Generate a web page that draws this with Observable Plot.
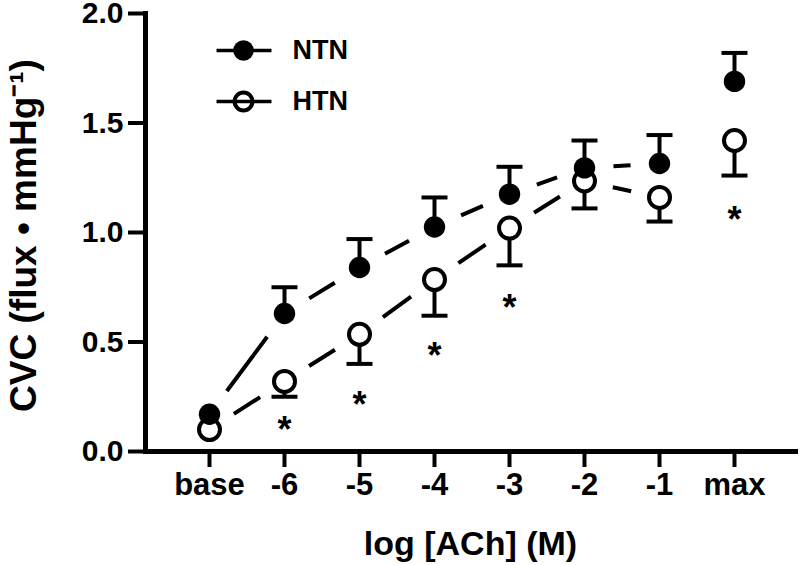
<!DOCTYPE html>
<html>
<head>
<meta charset="utf-8">
<script src="https://cdn.jsdelivr.net/npm/d3@7"></script>
<script src="https://cdn.jsdelivr.net/npm/@observablehq/plot@0.6"></script>
<style>
  html, body { margin: 0; padding: 0; background: #fff; }
  #chart { width: 800px; height: 565px; }
</style>
</head>
<body>
<div id="chart"></div>
<script>
// ---- data ----
const categories = ["base", "-6", "-5", "-4", "-3", "-2", "-1", "max"];
const ntnMean  = [0.17, 0.63, 0.84, 1.025, 1.175, 1.295, 1.315, 1.69];
const ntnUpper = [null, 0.75, 0.97, 1.16, 1.30, 1.42, 1.445, 1.82];
const htnMean  = [0.10, 0.32, 0.535, 0.785, 1.02, 1.235, 1.16, 1.42];
const htnLower = [null, 0.25, 0.40, 0.62, 0.85, 1.11, 1.05, 1.26];
const connectedCount = 7; // base .. -1 are joined by lines
const sigCategories = ["-6", "-5", "-4", "-3", "max"];
const sigY = [0.13, 0.24, 0.465, 0.685, 1.085];
const seriesNames = ["NTN", "HTN"];
const yTicks = [0, 0.5, 1.0, 1.5, 2.0];
const xLabel = "log [ACh] (M)";
const yLabel = "CVC (flux \u2022 mmHg\u207B\u00B9)";

// ---- tables built from arrays ----
const ntn = categories.map((c, i) => ({cat: c, mean: ntnMean[i], err: ntnUpper[i]}));
const htn = categories.map((c, i) => ({cat: c, mean: htnMean[i], err: htnLower[i]}));
function segments(vals) {
  const out = [];
  for (let i = 0; i < connectedCount - 1; i++) {
    out.push({x1: categories[i], x2: categories[i + 1], y1: vals[i], y2: vals[i + 1]});
  }
  return out;
}
const sig = sigCategories.map((c, i) => ({cat: c, y: sigY[i]}));

const font = "'Liberation Sans', Arial, Helvetica, sans-serif";
const capSymbol = {draw(ctx) { ctx.moveTo(-13, 0); ctx.lineTo(13, 0); }};
const legendLine = {draw(ctx) { ctx.moveTo(-27, 0); ctx.lineTo(28, 0); }};

const legendMarks = [];
seriesNames.forEach((name, i) => {
  const dy = 37 + i * 51;
  legendMarks.push(
    Plot.dot([name], {frameAnchor: "top-left", dx: 98, dy, symbol: legendLine, fill: "none", stroke: "black", strokeWidth: 3.5}),
    i === 0
      ? Plot.dot([name], {frameAnchor: "top-left", dx: 98, dy, r: 10.3, fill: "black", stroke: "none"})
      : Plot.dot([name], {frameAnchor: "top-left", dx: 98, dy, r: 8.9, fill: "none", stroke: "black", strokeWidth: 4}),
    Plot.text([name], {frameAnchor: "top-left", dx: 147, dy: dy - 0.5, textAnchor: "start", lineAnchor: "middle", fontSize: 27, fontWeight: "bold", fill: "black"})
  );
});

const chart = Plot.plot({
  width: 800,
  height: 565,
  marginLeft: 145,
  marginRight: 5,
  marginTop: 13,
  marginBottom: 114,
  style: {fontFamily: font, background: "white", color: "black", overflow: "visible"},
  x: {type: "point", domain: categories, padding: 0.8333, align: 0.512, axis: null},
  y: {domain: [0, 2], axis: null},
  marks: [
    Plot.axisY({ticks: yTicks, tickFormat: d3.format(".1f"), tickSize: 17, tickPadding: 5, fontSize: 30, fontWeight: "bold", strokeWidth: 4, label: null}),
    Plot.axisX({tickSize: 16, tickPadding: 5, fontSize: 31, fontWeight: "bold", strokeWidth: 4, label: null}),
    Plot.frame({anchor: "left", stroke: "black", strokeWidth: 5, strokeLinecap: "square"}),
    Plot.frame({anchor: "bottom", stroke: "black", strokeWidth: 5, strokeLinecap: "square"}),
    Plot.text([xLabel], {frameAnchor: "bottom", dy: 93, fontSize: 34, fontWeight: "bold", textAnchor: "middle", lineAnchor: "middle", fill: "black"}),
    Plot.text([yLabel], {frameAnchor: "left", rotate: -90, dx: -121, dy: 3, fontSize: 37, fontWeight: "bold", textAnchor: "middle", lineAnchor: "middle", fill: "black"}),
    // connecting lines
    Plot.link(segments(ntnMean), {x1: "x1", x2: "x2", y1: "y1", y2: "y2", stroke: "black", strokeWidth: 4, strokeLinecap: "butt"}),
    Plot.link(segments(htnMean), {x1: "x1", x2: "x2", y1: "y1", y2: "y2", stroke: "black", strokeWidth: 4, strokeLinecap: "butt"}),
    // HTN error bars (down) and symbols
    Plot.ruleX(htn.filter(d => d.err != null), {x: "cat", y1: "mean", y2: "err", stroke: "black", strokeWidth: 4}),
    Plot.dot(htn.filter(d => d.err != null), {x: "cat", y: "err", symbol: capSymbol, fill: "none", stroke: "black", strokeWidth: 4}),
    Plot.dot(htn, {x: "cat", y: "mean", r: 10.5, fill: "white", stroke: "black", strokeWidth: 4}),
    // NTN error bars (up) and symbols
    Plot.ruleX(ntn.filter(d => d.err != null), {x: "cat", y1: "mean", y2: "err", stroke: "black", strokeWidth: 4}),
    Plot.dot(ntn.filter(d => d.err != null), {x: "cat", y: "err", symbol: capSymbol, fill: "none", stroke: "black", strokeWidth: 4}),
    Plot.dot(ntn, {x: "cat", y: "mean", r: 10.7, fill: "black", stroke: "none"}),
    // significance markers
    Plot.text(sig, {x: "cat", y: "y", text: () => "*", fontSize: 36, fontWeight: "bold", lineAnchor: "middle", dy: 7, fill: "black"}),
    ...legendMarks
  ]
});

document.getElementById("chart").appendChild(chart);

// leave a gap around each marker on the connecting segments
const gap = 29;
chart.querySelectorAll('g[aria-label="link"] path').forEach(p => {
  const L = p.getTotalLength();
  const dash = Math.max(L - 2 * gap, 0);
  p.setAttribute("stroke-dasharray", `0 ${gap} ${dash} ${L + gap}`);
});
</script>
</body>
</html>
